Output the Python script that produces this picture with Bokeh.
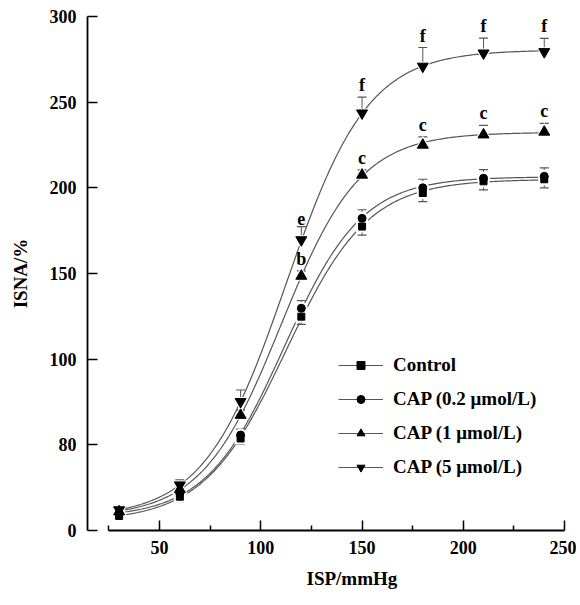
import numpy as np
from bokeh.plotting import figure
from bokeh.models import (ColumnDataSource, FixedTicker, Whisker, TeeHead, Legend,
                          LegendItem, Title, Range1d)
from bokeh.core.properties import value
from bokeh.embed import file_html
from bokeh.resources import INLINE

# ---------------- data ----------------
isp = [30, 60, 90, 120, 150, 180, 210, 240]

control = [8.5, 19.7, 53.7, 124.8, 177.4, 197.0, 203.8, 205.0]
cap02 = [9.5, 21.6, 55.7, 129.7, 182.2, 200.0, 205.6, 206.7]
cap1 = [11.0, 24.0, 67.3, 148.5, 207.5, 225.0, 231.0, 232.6]
cap5 = [12.0, 26.5, 75.2, 169.6, 243.6, 270.9, 278.6, 279.4]

control_err = [2, 3, 3.5, 4.5, 5, 5, 5, 5]      # drawn downward
cap02_err = [2, 3, 3.5, 4.5, 5, 5, 5, 5]        # drawn upward
cap1_err = [2, 2.5, 3, 3, 3, 4.8, 5.4, 5]       # drawn upward
cap5_err = [2, 3, 6.8, 7.8, 9.3, 11, 8.8, 7.8]  # drawn upward

cap1_letters = ["", "", "", "b", "c", "c", "c", "c"]
cap5_letters = ["", "", "", "e", "f", "f", "f", "f"]

series_names = ["Control", "CAP (0.2 \u03bcmol/L)", "CAP (1 \u03bcmol/L)", "CAP (5 \u03bcmol/L)"]

x_ticks = [50, 100, 150, 200, 250]
x_minor_ticks = [25, 75, 125, 175, 225]
y_ticks = [0, 50, 100, 150, 200, 250, 300]
y_tick_labels = ["0", "80", "100", "150", "200", "250", "300"]

FONT = "Liberation Serif"
LINE = "#555555"


def boltzmann_fit(x, y):
    """Least-squares sigmoid (Boltzmann) fit of the read points, like the original fitted curves."""
    x = np.asarray(x, float)
    y = np.asarray(y, float)
    x0g, dxg = np.meshgrid(np.linspace(70, 160, 181), np.linspace(4, 45, 165), indexing="ij")
    x0g = x0g.ravel()[:, None]
    dxg = dxg.ravel()[:, None]
    s = 1.0 / (1.0 + np.exp((x[None, :] - x0g) / dxg))
    t = 1.0 - s
    a = (s * s).sum(1); b = (s * t).sum(1); c = (t * t).sum(1)
    d1 = (s * y).sum(1); d2 = (t * y).sum(1)
    det = a * c - b * b
    A1 = (d1 * c - b * d2) / det
    A2 = (a * d2 - b * d1) / det
    res = ((A1[:, None] * s + A2[:, None] * t - y[None, :]) ** 2).sum(1)
    i = int(np.nanargmin(res))
    p = (A1[i], A2[i], x0g[i, 0], dxg[i, 0])

    def f(xx):
        xx = np.asarray(xx, float)
        return p[1] + (p[0] - p[1]) / (1.0 + np.exp((xx - p[2]) / p[3]))
    return f


p = figure(frame_width=477, frame_height=514, output_backend="svg", toolbar_location=None,
           x_range=Range1d(14.38, 250), y_range=Range1d(0, 300),
           min_border_left=87, min_border_right=12, min_border_top=16, min_border_bottom=72)
p.outline_line_color = None
p.xgrid.grid_line_color = None
p.ygrid.grid_line_color = None
p.background_fill_color = "white"
p.border_fill_color = "white"

xs_dense = np.linspace(isp[0], isp[-1], 300)

series = [
    (control, control_err, "square", 7, "down"),
    (cap02, cap02_err, "circle", 8, "up"),
    (cap1, cap1_err, "triangle", 11, "up"),
    (cap5, cap5_err, "inverted_triangle", 11, "up"),
]

legend_items = []
line_renderers = []
for (vals, errs, marker, size, side), name in zip(series, series_names):
    f = boltzmann_fit(isp, vals)
    lr = p.line(xs_dense, f(xs_dense), line_color=LINE, line_width=1.2)
    line_renderers.append((lr, vals, errs, marker, size, side, name))

# error bars (under markers)
for lr, vals, errs, marker, size, side, name in line_renderers:
    v = np.asarray(vals, float)
    e = np.asarray(errs, float)
    if side == "up":
        src = ColumnDataSource(dict(x=isp, lower=v, upper=v + e))
        w = Whisker(source=src, base="x", lower="lower", upper="upper", dimension="height",
                    line_color=LINE, line_width=1,
                    upper_head=TeeHead(size=9, line_color=LINE, line_width=1.2),
                    lower_head=None, level="underlay")
    else:
        src = ColumnDataSource(dict(x=isp, lower=v - e, upper=v))
        w = Whisker(source=src, base="x", lower="lower", upper="upper", dimension="height",
                    line_color=LINE, line_width=1,
                    lower_head=TeeHead(size=9, line_color=LINE, line_width=1.2),
                    upper_head=None, level="underlay")
    p.add_layout(w)

# white halos then black markers
for lr, vals, errs, marker, size, side, name in line_renderers:
    p.scatter(isp, vals, marker=marker, size=size + 5, fill_color="white", line_color=None)
for lr, vals, errs, marker, size, side, name in line_renderers:
    sr = p.scatter(isp, vals, marker=marker, size=size, fill_color="black", line_color="black")
    legend_items.append(LegendItem(label=name, renderers=[lr, sr]))

# significance letters
for vals, errs, letters in [(cap1, cap1_err, cap1_letters), (cap5, cap5_err, cap5_letters)]:
    xs_l, ys_l, tx = [], [], []
    for xi, vi, ei, li in zip(isp, vals, errs, letters):
        if li:
            xs_l.append(xi); ys_l.append(vi + ei); tx.append(li)
    p.text(x=xs_l, y=ys_l, text=tx, text_align="center", text_baseline="bottom",
           y_offset=-2, text_font=value(FONT), text_font_style="bold",
           text_font_size="18px", text_color="black")

legend = Legend(items=legend_items, location=(251, 52), glyph_width=45, glyph_height=20,
                label_height=20, spacing=12, padding=0, margin=0, label_standoff=10,
                label_text_font=FONT, label_text_font_style="bold", label_text_font_size="19px",
                label_text_color="black",
                border_line_color=None, background_fill_alpha=0)
p.add_layout(legend)

# axes
for ax in (p.xaxis[0], p.yaxis[0]):
    ax.axis_line_width = 1.8
    ax.axis_line_color = "black"
    ax.major_tick_line_width = 1.5
    ax.major_tick_line_color = "black"
    ax.minor_tick_line_width = 1.5
    ax.minor_tick_line_color = "black"
    ax.major_tick_in = 10
    ax.major_tick_out = 0
    ax.major_label_text_font = FONT
    ax.major_label_text_font_style = "bold"
    ax.major_label_text_font_size = "18px"
    ax.major_label_text_color = "black"

p.xaxis.ticker = FixedTicker(ticks=x_ticks, minor_ticks=x_minor_ticks)
p.xaxis.bounds = (25, 250)
p.xaxis.minor_tick_in = 5
p.xaxis.minor_tick_out = 0
p.xaxis.major_label_standoff = 10

p.yaxis.ticker = FixedTicker(ticks=y_ticks, minor_ticks=[])
p.yaxis.bounds = (0, 300)
p.yaxis.major_label_overrides = {t: l for t, l in zip(y_ticks, y_tick_labels)}
p.yaxis.major_label_standoff = 11
p.yaxis.axis_label = "ISNA/%"
p.yaxis.axis_label_standoff = 16
p.yaxis.axis_label_text_font = FONT
p.yaxis.axis_label_text_font_style = "bold"
p.yaxis.axis_label_text_font_size = "19px"
p.yaxis.axis_label_text_color = "black"

xtitle = Title(text="ISP/mmHg", align="left", offset=219, standoff=19,
               text_font=FONT, text_font_style="bold", text_font_size="19px",
               text_color="black")
p.add_layout(xtitle, "below")

open("out.html", "w").write(file_html(p, INLINE))
